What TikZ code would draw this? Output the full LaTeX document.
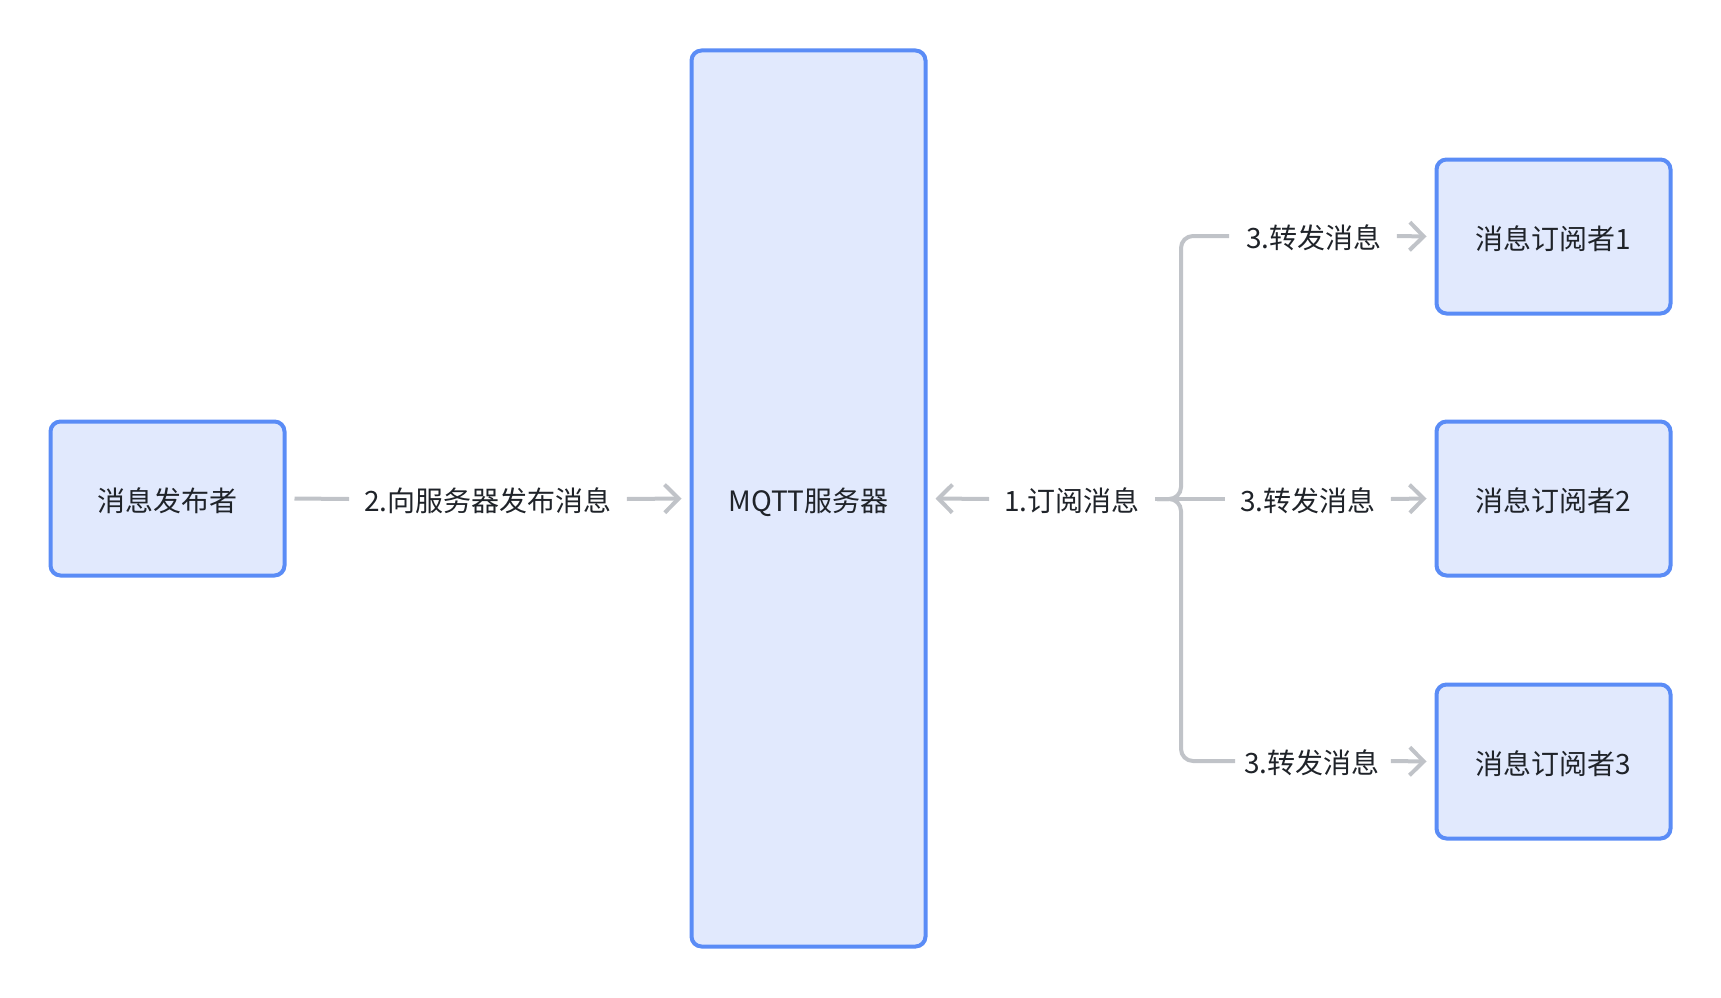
\documentclass[tikz,border=0pt]{standalone}
\usepackage{fontspec}
\setmainfont{Noto Sans CJK SC}
\usetikzlibrary{arrows.meta}
\definecolor{boxline}{HTML}{5A8CF6}
\definecolor{boxfill}{HTML}{E1E9FD}
\definecolor{conncol}{HTML}{C0C3C8}
\definecolor{txtcol}{HTML}{1F2329}
\tikzset{
  boxnode/.style={draw=boxline, fill=boxfill, line width=4pt, rounded corners=10pt,
    text=txtcol, font=\fontsize{28}{32}\selectfont, inner sep=0pt,
    text height=30pt, text depth=5pt},
  lbl/.style={text=txtcol, font=\fontsize{28}{32}\selectfont, inner sep=0pt,
    text height=30pt, text depth=5pt},
  conn/.style={draw=conncol, line width=4pt},
  tip/.style={-{Straight Barb[length=14pt,width=28pt,line width=4pt]}},
}
\begin{document}
\begin{tikzpicture}[x=1pt,y=-1pt]
\useasboundingbox (0,0) rectangle (1721,998);
\node[boxnode, minimum width=234pt, minimum height=154pt] (pub) at (167.5,498.5) {消息发布者};
\node[boxnode, minimum width=234pt, minimum height=896pt] (mqtt) at (808.5,498.5) {MQTT服务器};
\node[boxnode, minimum width=234pt, minimum height=154pt] (s1) at (1553.5,236.5) {消息订阅者1};
\node[boxnode, minimum width=234pt, minimum height=154pt] (s2) at (1553.5,498.5) {消息订阅者2};
\node[boxnode, minimum width=234pt, minimum height=154pt] (s3) at (1553.5,761.5) {消息订阅者3};

\node[lbl] (t2) at (488,499) {2.向服务器发布消息};
\node[lbl] (t1) at (1072,499) {1.订阅消息};
\node[lbl] (t3a) at (1314,236) {3.转发消息};
\node[lbl] (t3b) at (1308,499) {3.转发消息};
\node[lbl] (t3c) at (1312,761) {3.转发消息};

\coordinate (j) at (1157,499);
\coordinate (bx) at (1181,499);

\draw[conn] ([xshift=8pt]pub.east) -- ([xshift=-15pt]t2.west);
\draw[conn,tip] ([xshift=15pt]t2.east) -- ([xshift=-8pt]mqtt.west);

\draw[conn,tip] ([xshift=-15pt]t1.west) -- ([xshift=8pt]mqtt.east);
\draw[conn] ([xshift=15pt]t1.east) -- (j);

\draw[conn, rounded corners=12pt] (j) -- (bx) |- ([xshift=-17pt]t3a.west);
\draw[conn, rounded corners=12pt] (j) -- (bx) |- ([xshift=-9pt]t3c.west);
\draw[conn] (j) -- ([xshift=-15pt]t3b.west);

\draw[conn,tip] ([xshift=15pt]t3a.east) -- ([xshift=-8pt]s1.west);
\draw[conn,tip] ([xshift=15pt]t3b.east) -- ([xshift=-8pt]s2.west);
\draw[conn,tip] ([xshift=11pt]t3c.east) -- ([xshift=-8pt]s3.west);
\end{tikzpicture}
\end{document}
